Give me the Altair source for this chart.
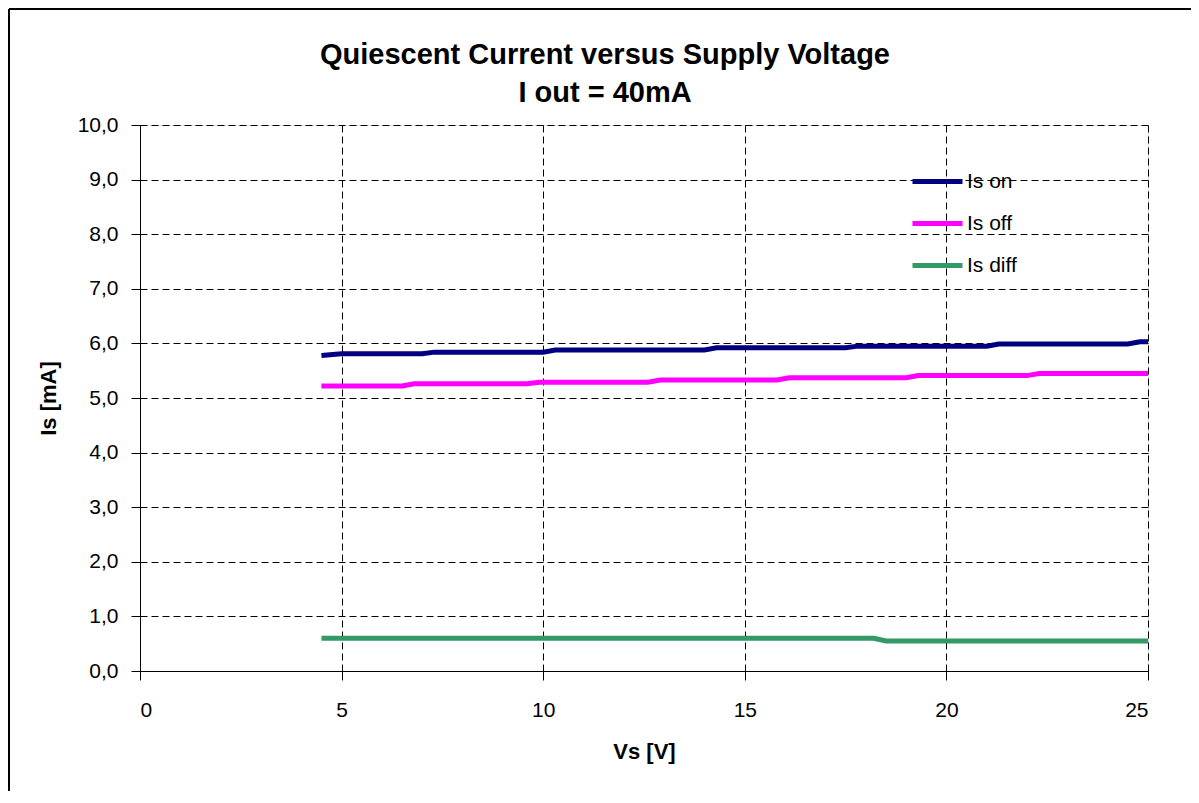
import altair as alt
import pandas as pd

# Data
on_x = [4.5, 5.0, 7.0, 7.3, 10.0, 10.3, 14.0, 14.3, 17.5, 17.8, 21.0, 21.3, 24.5, 24.8, 25.0]
on_y = [5.78, 5.81, 5.81, 5.84, 5.84, 5.88, 5.88, 5.92, 5.92, 5.95, 5.95, 5.99, 5.99, 6.03, 6.03]

off_x = [4.5, 6.5, 6.8, 9.6, 9.9, 12.6, 12.9, 15.8, 16.1, 19.0, 19.3, 22.0, 22.3, 25.0]
off_y = [5.22, 5.22, 5.26, 5.26, 5.29, 5.29, 5.33, 5.33, 5.37, 5.37, 5.41, 5.41, 5.45, 5.45]

diff_x = [4.5, 18.2, 18.5, 25.0]
diff_y = [0.60, 0.60, 0.55, 0.55]

series = ["Is on", "Is off", "Is diff"]
colors = ["#000080", "#FF00FF", "#339966"]

title_lines = ["Quiescent Current versus Supply Voltage", "I out = 40mA"]

rows = []
for name, xs, ys in [("Is on", on_x, on_y), ("Is off", off_x, off_y), ("Is diff", diff_x, diff_y)]:
    for i, (a, b) in enumerate(zip(xs, ys)):
        rows.append({"series": name, "Vs": a, "Is": b, "order": i})
df = pd.DataFrame(rows)

W, H = 1008, 546
FONT = "Liberation Sans"

axis_common = dict(
    labelFontSize=21, titleFontSize=22, titleFontWeight="bold", tickSize=9,
    gridDash=[7, 4], gridColor="#000000", gridOpacity=1,
    domainColor="#000000", tickColor="#000000",
    labelColor="#000000", titleColor="#000000",
)

lines = alt.Chart(df).mark_line(strokeWidth=5, clip=False).encode(
    x=alt.X("Vs:Q", scale=alt.Scale(domain=[0, 25], nice=False),
            axis=alt.Axis(values=[0, 5, 10, 15, 20, 25], title="Vs [V]",
                          labelPadding=19, titlePadding=21, **axis_common)),
    y=alt.Y("Is:Q", scale=alt.Scale(domain=[0, 10], nice=False),
            axis=alt.Axis(values=[0, 1, 2, 3, 4, 5, 6, 7, 8, 9, 10], title="Is [mA]",
                          labelExpr="replace(format(datum.value, '.1f'), '.', ',')",
                          labelPadding=13, titlePadding=17, **axis_common)),
    color=alt.Color("series:N", scale=alt.Scale(domain=series, range=colors),
                    legend=alt.Legend(title=None, orient="none", legendX=770, legendY=29,
                                      symbolType="stroke", symbolStrokeWidth=5,
                                      symbolSize=2500, labelFontSize=21, labelFont=FONT,
                                      labelColor="#000000", rowPadding=4, labelOffset=2)),
    order="order:Q",
)

one = pd.DataFrame({"k": [0]})
frame_top = alt.Chart(one).mark_rule(stroke="#000000", strokeWidth=2, clip=False).encode(
    x=alt.value(-131), x2=alt.value(W + 200), y=alt.value(-116)
)
frame_left = alt.Chart(one).mark_rule(stroke="#000000", strokeWidth=2, clip=False).encode(
    x=alt.value(-131), y=alt.value(-116), y2=alt.value(H + 200)
)

tdf = pd.DataFrame({"t": title_lines, "row": [0, 1]})


def title_line(i, yv):
    return alt.Chart(tdf).transform_filter(alt.datum.row == i).mark_text(
        font=FONT, fontSize=29, fontWeight="bold", color="#000000",
        align="center", baseline="middle", clip=False
    ).encode(text="t:N", x=alt.value(465), y=alt.value(yv))


chart = alt.layer(frame_top, frame_left, lines, title_line(0, -70), title_line(1, -32)).properties(
    width=W, height=H,
    autosize=alt.AutoSizeParams(type="none"),
    padding={"left": 132, "top": 117, "right": 43, "bottom": 120},
).configure_view(stroke=None).configure(font=FONT).configure_axis(
    labelFont=FONT, titleFont=FONT
)

chart.save("out.html", embed_options={"renderer": "svg", "actions": False})
